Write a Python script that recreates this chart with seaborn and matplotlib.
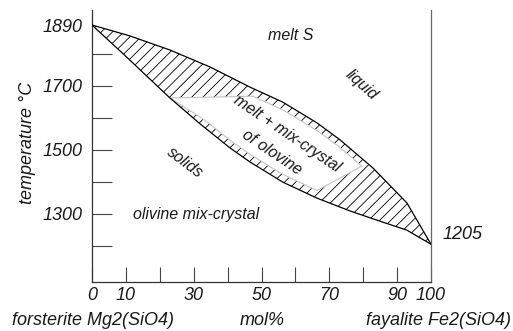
import numpy as np
import matplotlib
matplotlib.use('Agg')
import matplotlib.pyplot as plt
import seaborn as sns

# liquidus (upper curve) and solidus (lower curve)
liq_x = [0, 11.2, 23.0, 34.8, 46.6, 56.3, 66.4, 73.2, 82.9, 92.9, 100]
liq_T = [1890, 1856, 1812, 1759, 1696, 1649, 1584, 1531, 1443, 1334, 1205]
sol_x = [0, 9.1, 17.1, 23.0, 31.9, 40.7, 46.6, 56.3, 66.4, 76.1, 85.8, 92.9, 100]
sol_T = [1890, 1801, 1721, 1662, 1581, 1506, 1462, 1399, 1349, 1309, 1274, 1249, 1205]

x_ticks = [0, 10, 20, 30, 40, 50, 60, 70, 80, 90, 100]
x_labels = ['0', '10', '', '30', '', '50', '', '70', '', '90', '100']
y_ticks = [1890, 1800, 1700, 1600, 1500, 1400, 1300, 1200]
y_labels = ['1890', '', '1700', '', '1500', '', '1300', '']

# white label window inside the two-phase field (x range along each curve)
window_top = [47.5, 79.6]
window_bottom = [66.4, 23.0]
band = 24

sns.set_style('white')
plt.rcParams['font.family'] = ['Liberation Sans', 'DejaVu Sans']
plt.rcParams['font.style'] = 'italic'
plt.rcParams['hatch.linewidth'] = 0.6
plt.rcParams['hatch.color'] = 'black'

txt = '#1a1a1a'

fig = plt.figure(figsize=(5.13, 3.31), dpi=100)
ax = fig.add_axes([92 / 513, 1 - 282 / 331, 339 / 513, 272 / 331])

# hatched two-phase field
ax.fill(np.r_[liq_x, sol_x[::-1]], np.r_[liq_T, sol_T[::-1]],
        facecolor='none', edgecolor='black', hatch='///', lw=0, zorder=2)

# white window with the label
tx = np.linspace(window_top[0], window_top[1], 14)
ty = np.interp(tx, liq_x, liq_T) - band
bx = np.linspace(window_bottom[0], window_bottom[1], 16)
by = np.interp(bx, sol_x, sol_T) + band * np.clip((bx - window_bottom[1]) / 10, 0, 1)
ax.fill(np.r_[tx, bx], np.r_[ty, by], facecolor='white', edgecolor='#c4c4c4',
        lw=0.8, zorder=3)

sns.lineplot(x=liq_x, y=liq_T, color='black', lw=0.9, sort=False,
             estimator=None, ax=ax, zorder=4)
sns.lineplot(x=sol_x, y=sol_T, color='black', lw=0.9, sort=False,
             estimator=None, ax=ax, zorder=4)

ax.set_xlim(0, 100)
ax.set_ylim(1087, 1937)

ax.set_xticks(x_ticks)
ax.set_xticklabels(x_labels)
ax.set_yticks(y_ticks)
ax.set_yticklabels(y_labels)
ax.tick_params(axis='y', direction='in', length=14.4, width=0.8, pad=6.5,
               labelsize=13, color='#444444', labelcolor=txt, left=True, right=False)
ax.tick_params(axis='x', direction='in', length=10.8, width=0.8, pad=3.5,
               labelsize=13, color='#444444', labelcolor=txt, bottom=True, top=False)
ax.yaxis.get_major_ticks()[0].tick1line.set_visible(False)

ax.spines['top'].set_visible(False)
ax.spines['left'].set_color('#333333')
ax.spines['bottom'].set_color('#333333')
ax.spines['right'].set_color('#666666')
for s in ['left', 'bottom', 'right']:
    ax.spines[s].set_linewidth(0.9)

# region labels
fs = 11.5
ax.text(58.7, 1856, 'melt S', fontsize=fs, color=txt, ha='center', va='center')
ax.text(79.6, 1702, 'liquid', fontsize=fs, color=txt, ha='center', va='center',
        rotation=-42, rotation_mode='anchor')
ax.text(57.5, 1549, 'melt + mix-crystal', fontsize=fs, color=txt, ha='center',
        va='center', rotation=-34, rotation_mode='anchor', zorder=5)
ax.text(53.1, 1493, 'of olovine', fontsize=fs, color=txt, ha='center',
        va='center', rotation=-34, rotation_mode='anchor', zorder=5)
ax.text(27.4, 1459, 'solids', fontsize=fs, color=txt, ha='center', va='center',
        rotation=-37, rotation_mode='anchor')
ax.text(30.7, 1299, 'olivine mix-crystal', fontsize=fs, color=txt,
        ha='center', va='center')
ax.annotate(f'{liq_T[-1]}', xy=(liq_x[-1], liq_T[-1]), xytext=(8, 7),
            textcoords='offset points', fontsize=13, color=txt,
            ha='left', va='center', annotation_clip=False)

fig.text(93.5 / 513, 0.033, 'forsterite Mg2(SiO4)', fontsize=13, color=txt,
         ha='center', va='center')
fig.text(262 / 513, 0.033, 'mol%', fontsize=13, color=txt, ha='center', va='center')
fig.text(511 / 513, 0.033, 'fayalite Fe2(SiO4)', fontsize=13, color=txt,
         ha='right', va='center')
fig.text(27 / 513, 1 - 143 / 331, 'temperature °C', fontsize=13, color=txt,
         rotation=90, ha='center', va='center')

fig.savefig('out.png', dpi=100)
